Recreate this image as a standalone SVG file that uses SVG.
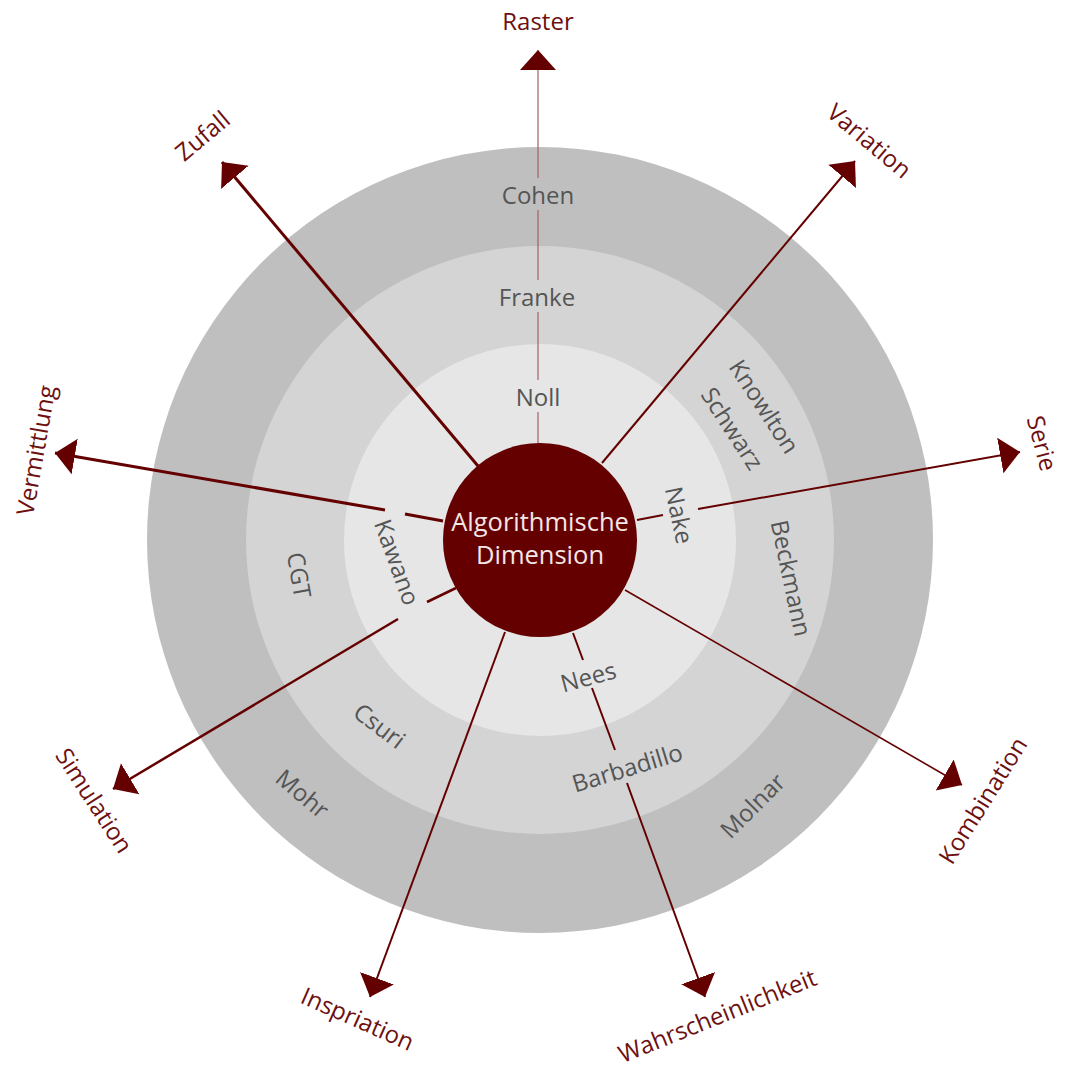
<svg xmlns="http://www.w3.org/2000/svg" width="1065" height="1069" viewBox="0 0 1065 1069">
<style>
.lbl{font-family:"Open Sans","Noto Sans",sans-serif;font-size:24px;fill:#555555;text-anchor:middle;dominant-baseline:central}
.dim{font-family:"Open Sans","Noto Sans",sans-serif;font-size:24px;fill:#6e1010;text-anchor:middle;dominant-baseline:central}
.ctr{font-family:"Open Sans","Noto Sans",sans-serif;font-size:25.5px;fill:#f3e6e6;text-anchor:middle;dominant-baseline:central}
.ln{stroke:#640000;fill:none;stroke-width:2}
</style>
<defs>
<marker id="ah" viewBox="0 0 22 38" markerWidth="22" markerHeight="38" refX="20" refY="19" orient="auto" markerUnits="userSpaceOnUse">
<path d="M0,1 L20,19 L0,37 Z" fill="#640000"/>
</marker>
</defs>
<rect width="1065" height="1069" fill="#ffffff"/>
<g id="rings">
<circle cx="540" cy="540" r="393" fill="#bfbfbf"/>
<circle cx="540" cy="540" r="294" fill="#d4d4d4"/>
<circle cx="540" cy="540" r="196" fill="#e6e6e6"/>
</g>
<g id="connectors">
<path class="ln" style="stroke:#a86060;stroke-width:1.2" d="M538,443 L538,412 M538,380 L538,312 M538,280 L538,210 M538,178 L538,50" marker-end="url(#ah)"/>
<path class="ln" style="stroke-width:3" d="M478,466 L222,162" marker-end="url(#ah)"/>
<path class="ln" d="M602,463 L855,161" marker-end="url(#ah)"/>
<path class="ln" d="M637,520 L663,515 M698,509 L1020,452" marker-end="url(#ah)"/>
<path class="ln" style="stroke-width:3" d="M443,521 L405,514 M385,510 L55,453" marker-end="url(#ah)"/>
<path class="ln" style="stroke-width:2.5" d="M456,588 L427,602 M398,619 L113,789" marker-end="url(#ah)"/>
<path class="ln" d="M505,632 L370,997" marker-end="url(#ah)"/>
<path class="ln" d="M573,633 L583,660 M592,688 L615,750 M627,783 L705,997" marker-end="url(#ah)"/>
<path class="ln" style="stroke-width:1.6" d="M625,590 L962,785" marker-end="url(#ah)"/>
</g>
<g id="center">
<circle cx="540" cy="540" r="97" fill="#640000"/>
<text class="ctr" x="540" y="521">Algorithmische</text>
<text class="ctr" x="540" y="554">Dimension</text>
</g>
<g id="names">
<text class="lbl" x="538" y="194">Cohen</text>
<text class="lbl" x="537" y="296">Franke</text>
<text class="lbl" x="538" y="396">Noll</text>
<text class="lbl" transform="translate(765,406) rotate(57)">Knowlton</text>
<text class="lbl" transform="translate(733,428) rotate(57)">Schwarz</text>
<text class="lbl" transform="translate(680,515) rotate(78)">Nake</text>
<text class="lbl" transform="translate(792,578) rotate(78)">Beckmann</text>
<text class="lbl" transform="translate(752,805) rotate(-45)">Molnar</text>
<text class="lbl" transform="translate(627,767) rotate(-17)">Barbadillo</text>
<text class="lbl" transform="translate(588,676) rotate(-15)">Nees</text>
<text class="lbl" transform="translate(380,725) rotate(37)">Csuri</text>
<text class="lbl" transform="translate(303,793) rotate(40)">Mohr</text>
<text class="lbl" transform="translate(300,575) rotate(80)">CGT</text>
<text class="lbl" transform="translate(398,562) rotate(70)">Kawano</text>
</g>
<g id="dimensions">
<text class="dim" x="538" y="20">Raster</text>
<text class="dim" transform="translate(202,135) rotate(-40)">Zufall</text>
<text class="dim" transform="translate(870,140) rotate(40)">Variation</text>
<text class="dim" transform="translate(1043,443) rotate(75)">Serie</text>
<text class="dim" transform="translate(35,450) rotate(-80)">Vermittlung</text>
<text class="dim" transform="translate(95,800) rotate(57)">Simulation</text>
<text class="dim" transform="translate(982,800) rotate(-58)">Kombination</text>
<text class="dim" transform="translate(358,1018) rotate(24)">Inspriation</text>
<text class="dim" transform="translate(717,1015) rotate(-22)">Wahrscheinlichkeit</text>
</g>
</svg>
